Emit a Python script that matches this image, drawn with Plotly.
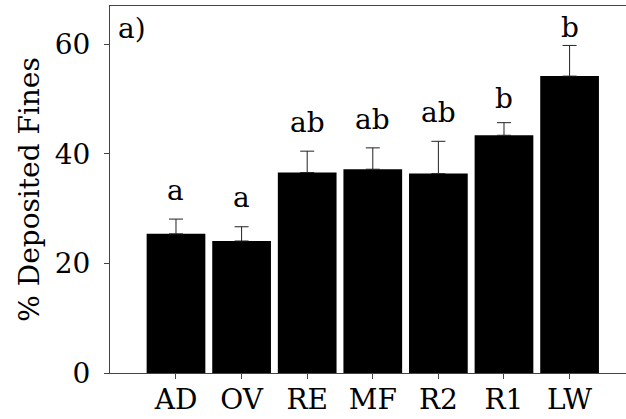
import plotly.graph_objects as go

# Site means of deposited fines (%) with one-sided standard error
sites = ["AD", "OV", "RE", "MF", "R2", "R1", "LW"]
fines = [25.4, 24.1, 36.6, 37.2, 36.4, 43.4, 54.2]
fines_se = [2.7, 2.6, 3.9, 3.9, 5.9, 2.3, 5.6]
groups = ["a", "a", "ab", "ab", "ab", "b", "b"]

# pixel gap between the top of each error bar and the baseline of its letter
letter_gap_px = [19, 20, 19, 19, 19, 15, 8]

FONT = "DejaVu Serif"
FS = 28
AXIS_COLOR = "#444444"

fig = go.Figure(
    go.Bar(
        x=list(range(len(sites))),
        y=fines,
        marker=dict(color="black", line=dict(width=0)),
        error_y=dict(
            type="data",
            symmetric=False,
            array=fines_se,
            arrayminus=[0] * len(sites),
            color="#222222",
            thickness=1,
            width=7,
        ),
    )
)

for i, (v, e, g, gap) in enumerate(zip(fines, fines_se, groups, letter_gap_px)):
    fig.add_annotation(
        x=i,
        y=v + e,
        text=g,
        showarrow=False,
        yanchor="bottom",
        yshift=gap - 9,
        font=dict(family=FONT, size=FS, color="black"),
    )

fig.add_annotation(
    xref="paper",
    yref="paper",
    x=0.012,
    y=0.99,
    xanchor="left",
    yanchor="top",
    text="a)",
    showarrow=False,
    font=dict(family=FONT, size=FS, color="black"),
)

fig.update_layout(
    width=626,
    height=419,
    margin=dict(l=110, r=0, t=6, b=46),
    paper_bgcolor="white",
    plot_bgcolor="white",
    bargap=0.105,
    showlegend=False,
    font=dict(family=FONT, size=FS, color="black"),
)

fig.update_xaxes(
    range=[-1.006, 6.86],
    tickmode="array",
    tickvals=list(range(len(sites))),
    ticktext=sites,
    ticks="outside",
    ticklen=5,
    tickwidth=1,
    tickcolor=AXIS_COLOR,
    showline=True,
    linecolor=AXIS_COLOR,
    linewidth=1,
    mirror=True,
    showgrid=False,
    zeroline=False,
    automargin=False,
    tickfont=dict(family=FONT, size=FS),
    ticklabelstandoff=-4,
)

fig.update_yaxes(
    range=[0, 67],
    tickvals=[0, 20, 40, 60],
    ticks="outside",
    ticklen=5,
    tickwidth=1,
    tickcolor=AXIS_COLOR,
    showline=True,
    linecolor=AXIS_COLOR,
    linewidth=1,
    showgrid=False,
    zeroline=False,
    automargin=False,
    tickfont=dict(family=FONT, size=FS),
    ticklabelstandoff=8,
    title=dict(text="% Deposited Fines", font=dict(family=FONT, size=FS), standoff=6),
)

fig.write_html("out.html")
